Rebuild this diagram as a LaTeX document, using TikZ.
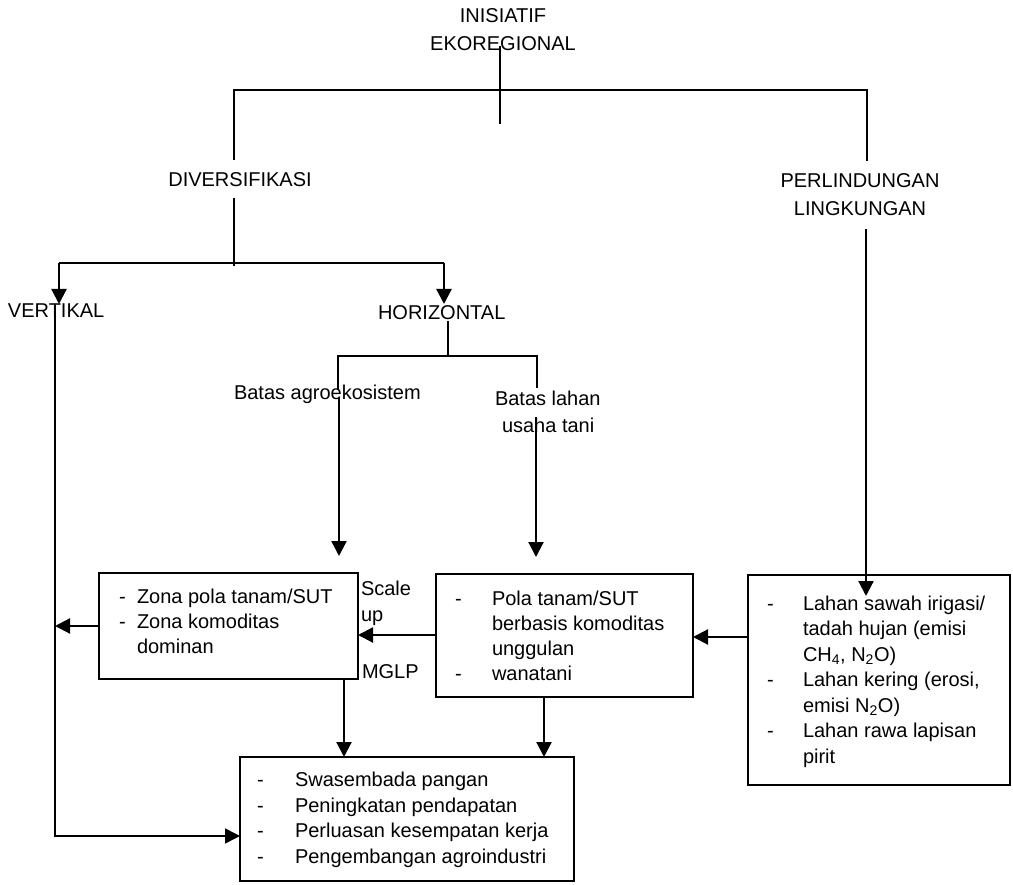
\documentclass[tikz,border=0pt]{standalone}
\usepackage{fontspec}
\setmainfont{Liberation Sans}
\usetikzlibrary{arrows.meta}
\begin{document}
\begin{tikzpicture}[x=1pt,y=-1pt,
  txt/.style={inner sep=0pt, outer sep=0pt, font=\fontsize{20}{25}\selectfont, anchor=base west},
  ctr/.style={inner sep=0pt, outer sep=0pt, font=\fontsize{20}{25}\selectfont, anchor=base},
  thinln/.style={line width=1.2pt},
  thickln/.style={line width=2.2pt},
  arr/.style={line width=2.2pt, -{Triangle[length=15pt,width=15pt]}},
  panel/.style={draw, line width=2pt, inner sep=0pt, outer sep=0pt, anchor=north west},
]
\useasboundingbox (0,0) rectangle (1013,885);

% ---------- headings ----------
\node[ctr] (ini1) at (503,23) {INISIATIF};
\node[ctr] (ini2) at (503,51) {EKOREGIONAL};
\node[ctr] (div)  at (240,187) {DIVERSIFIKASI};
\node[ctr] (per1) at (860,188) {PERLINDUNGAN};
\node[ctr] (per2) at (860,216) {LINGKUNGAN};
\node[txt] (ver)  at (8,318) {VERTIKAL};
\node[txt] (hor)  at (378,320) {HORIZONTAL};
\node[txt] (agro) at (234,400) {Batas agroekosistem};
\node[txt] (lah1) at (495,406) {Batas lahan};
\node[txt] (lah2) at (502,432) {usaha tani};
\node[txt] (sc1)  at (361,595) {Scale};
\node[txt] (sc2)  at (361,621) {up};
\node[txt] (mglp) at (362,678) {MGLP};

% ---------- boxes ----------
\node[panel, minimum width=259pt, minimum height=106pt] (A) at (99,573) {};
\node[panel, minimum width=257pt, minimum height=123pt] (B) at (436,574) {};
\node[panel, minimum width=262pt, minimum height=210pt] (C) at (748,575) {};
\node[panel, minimum width=334pt, minimum height=124pt] (D) at (240,757) {};

% box A
\node[txt] (a0) at (119,603) {-};
\node[txt] (a1) at (137,603) {Zona pola tanam/SUT};
\node[txt] (a2) at (119,628) {-};
\node[txt] (a3) at (137,628) {Zona komoditas};
\node[txt] (a4) at (137,653) {dominan};

% box B
\node[txt] (b0) at (455,605) {-};
\node[txt] (b1) at (492,605) {Pola tanam/SUT};
\node[txt] (b2) at (492,630) {berbasis komoditas};
\node[txt] (b3) at (492,655) {unggulan};
\node[txt] (b4) at (455,680) {-};
\node[txt] (b5) at (492,680) {wanatani};

% box C
\node[txt] (c0) at (767,610) {-};
\node[txt] (c1) at (803,610) {Lahan sawah irigasi/};
\node[txt] (c2) at (803,635) {tadah hujan (emisi};
\node[txt] (c3) at (803,661) {CH\textsubscript{4}, N\textsubscript{2}O)};
\node[txt] (c4) at (767,686) {-};
\node[txt] (c5) at (803,686) {Lahan kering (erosi,};
\node[txt] (c6) at (803,712) {emisi N\textsubscript{2}O)};
\node[txt] (c7) at (767,737) {-};
\node[txt] (c8) at (803,737) {Lahan rawa lapisan};
\node[txt] (c9) at (803,763) {pirit};

% box D
\node[txt] (d0) at (257,786) {-};
\node[txt] (d1) at (295,786) {Swasembada pangan};
\node[txt] (d2) at (257,812) {-};
\node[txt] (d3) at (295,812) {Peningkatan pendapatan};
\node[txt] (d4) at (257,837) {-};
\node[txt] (d5) at (295,837) {Perluasan kesempatan kerja};
\node[txt] (d6) at (257,863) {-};
\node[txt] (d7) at (295,863) {Pengembangan agroindustri};

% ---------- junction points ----------
\coordinate (t0) at (500,46);
\coordinate (t1) at (500,124);
\coordinate (tl) at (234,90);
\coordinate (tr) at (867,90);
\coordinate (tlb) at (234,160);
\coordinate (trb) at (867,161);
\coordinate (dv0) at (234,198);
\coordinate (dv1) at (234,266);
\coordinate (hv) at (59,263);
\coordinate (hh) at (444,263);
\coordinate (vtip) at (59,304);
\coordinate (htip) at (444,304);
\coordinate (ho0) at (448,321);
\coordinate (ho1) at (448,356);
\coordinate (hl) at (338,356);
\coordinate (hr) at (537,356);
\coordinate (hlb) at (338,390);
\coordinate (hrb) at (537,388);
\coordinate (ag0) at (339,398);
\coordinate (ag1) at (339,556);
\coordinate (lh0) at (536,417);
\coordinate (lh1) at (536,557);
\coordinate (pl0) at (866,229);
\coordinate (pl1) at (866,596);
\coordinate (v0) at (55,305);
\coordinate (v1) at (55,836);
\coordinate (yCB) at (0,637);
\coordinate (yBA) at (0,635);
\coordinate (xAD) at (344,0);
\coordinate (xBD) at (544,0);

% ---------- tree connectors ----------
\draw[thinln] (t0) -- (t1);
\draw[thinln] (tlb) -- (tl) -- (tr) -- (trb);
\draw[thinln] (dv0) -- (dv1);
\draw[line width=1.8pt] (hv) -- (hh);
\draw[arr] (hv) -- (vtip);
\draw[arr] (hh) -- (htip);
\draw[thinln] (ho0) -- (ho1);
\draw[thinln] (hlb) -- (hl) -- (hr) -- (hrb);
\draw[arr] (ag0) -- (ag1);
\draw[arr] (lh0) -- (lh1);
\draw[arr] (pl0) -- (pl1);

% ---------- box connectors ----------
\draw[arr] (C.west |- yCB) -- (B.east |- yCB);
\draw[arr] (B.west |- yBA) -- (A.east |- yBA);
\draw[arr] (A.west) -- (v0 |- A.west);
\draw[arr, line width=1.6pt] (v0) -- (v1) -- (D.west |- v1);
\draw[arr] (A.south -| xAD) -- (D.north -| xAD);
\draw[arr] (B.south -| xBD) -- (D.north -| xBD);
\end{tikzpicture}
\end{document}
